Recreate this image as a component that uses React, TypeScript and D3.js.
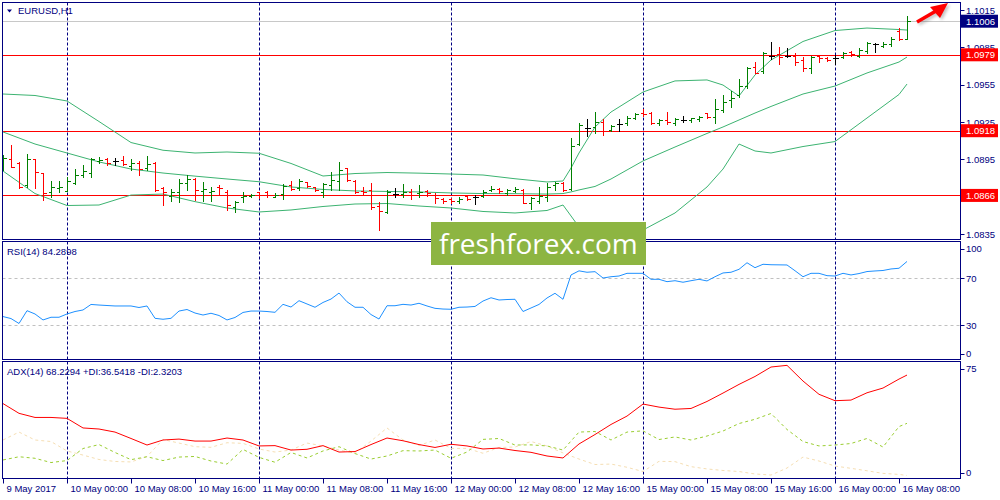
import React from 'react';
import * as d3 from 'd3';

// ---------- DATA ----------
const timeLabels = [
  '9 May 2017', '10 May 00:00', '10 May 08:00', '10 May 16:00', '11 May 00:00',
  '11 May 08:00', '11 May 16:00', '12 May 00:00', '12 May 08:00', '12 May 16:00',
  '15 May 00:00', '15 May 08:00', '15 May 16:00', '16 May 00:00', '16 May 08:00',
];
const daySeparators = [8, 32, 56, 80, 104];

const open = [
  1.08888, 1.08950, 1.08921, 1.08744, 1.08950, 1.08838, 1.08688, 1.08720, 1.08698, 1.08757,
  1.08824, 1.08843, 1.08934, 1.08953, 1.08934, 1.08945, 1.08899, 1.08918, 1.08878, 1.08918,
  1.08717, 1.08655, 1.08690, 1.08757, 1.08790, 1.08698, 1.08690, 1.08730, 1.08690, 1.08565,
  1.08645, 1.08655, 1.08685, 1.08685, 1.08650, 1.08671, 1.08744, 1.08717, 1.08765, 1.08725,
  1.08690, 1.08744, 1.08778, 1.08878, 1.08778, 1.08698, 1.08704, 1.08575, 1.08529, 1.08669,
  1.08669, 1.08690, 1.08677, 1.08696, 1.08663, 1.08629, 1.08629, 1.08615, 1.08655, 1.08645,
  1.08655, 1.08704, 1.08709, 1.08682, 1.08698, 1.08704, 1.08602, 1.08615, 1.08650, 1.08744,
  1.08757, 1.08709, 1.09071, 1.09199, 1.09212, 1.09252, 1.09186, 1.09232, 1.09240, 1.09280,
  1.09320, 1.09325, 1.09240, 1.09266, 1.09240, 1.09266, 1.09266, 1.09274, 1.09320, 1.09288,
  1.09344, 1.09427, 1.09467, 1.09539, 1.09694, 1.09660, 1.09780, 1.09797, 1.09780, 1.09780,
  1.09748, 1.09682, 1.09780, 1.09762, 1.09762, 1.09775, 1.09810, 1.09780, 1.09821, 1.09877,
  1.09861, 1.09874, 1.09984, 1.09920,
];
const high = [
  1.08985, 1.09065, 1.08926, 1.08993, 1.08953, 1.08840, 1.08776, 1.08776, 1.08810, 1.08870,
  1.08905, 1.08963, 1.08966, 1.08958, 1.08958, 1.08979, 1.08950, 1.08939, 1.08979, 1.08926,
  1.08730, 1.08709, 1.08790, 1.08824, 1.08798, 1.08770, 1.08730, 1.08744, 1.08700, 1.08615,
  1.08690, 1.08669, 1.08690, 1.08696, 1.08677, 1.08749, 1.08776, 1.08790, 1.08770, 1.08730,
  1.08757, 1.08851, 1.08926, 1.08883, 1.08784, 1.08730, 1.08757, 1.08610, 1.08704, 1.08722,
  1.08749, 1.08709, 1.08744, 1.08704, 1.08677, 1.08637, 1.08637, 1.08645, 1.08663, 1.08663,
  1.08704, 1.08736, 1.08722, 1.08709, 1.08725, 1.08709, 1.08650, 1.08725, 1.08762, 1.08770,
  1.08770, 1.09119, 1.09240, 1.09272, 1.09328, 1.09274, 1.09226, 1.09272, 1.09301, 1.09325,
  1.09352, 1.09328, 1.09272, 1.09328, 1.09280, 1.09298, 1.09285, 1.09301, 1.09325, 1.09432,
  1.09467, 1.09502, 1.09593, 1.09694, 1.09735, 1.09815, 1.09891, 1.09855, 1.09847, 1.09807,
  1.09770, 1.09780, 1.09788, 1.09770, 1.09788, 1.09815, 1.09823, 1.09847, 1.09891, 1.09887,
  1.09891, 1.09931, 1.10008, 1.10102,
];
const low = [
  1.08864, 1.08891, 1.08717, 1.08730, 1.08717, 1.08623, 1.08650, 1.08690, 1.08692, 1.08749,
  1.08810, 1.08810, 1.08923, 1.08905, 1.08905, 1.08905, 1.08864, 1.08824, 1.08864, 1.08696,
  1.08583, 1.08618, 1.08605, 1.08704, 1.08623, 1.08615, 1.08618, 1.08663, 1.08543, 1.08529,
  1.08610, 1.08650, 1.08637, 1.08650, 1.08645, 1.08629, 1.08704, 1.08704, 1.08730, 1.08696,
  1.08645, 1.08704, 1.08704, 1.08776, 1.08682, 1.08663, 1.08551, 1.08382, 1.08516, 1.08645,
  1.08650, 1.08629, 1.08650, 1.08655, 1.08597, 1.08597, 1.08597, 1.08597, 1.08623, 1.08589,
  1.08645, 1.08696, 1.08682, 1.08663, 1.08685, 1.08597, 1.08551, 1.08602, 1.08615, 1.08700,
  1.08696, 1.08704, 1.09065, 1.09140, 1.09159, 1.09146, 1.09180, 1.09180, 1.09226, 1.09272,
  1.09298, 1.09232, 1.09226, 1.09234, 1.09226, 1.09248, 1.09252, 1.09260, 1.09280, 1.09244,
  1.09330, 1.09367, 1.09449, 1.09521, 1.09641, 1.09646, 1.09754, 1.09716, 1.09770, 1.09708,
  1.09662, 1.09646, 1.09735, 1.09740, 1.09716, 1.09762, 1.09780, 1.09775, 1.09807, 1.09815,
  1.09850, 1.09863, 1.09909, 1.09917,
];
const close = [
  1.08961, 1.08891, 1.08730, 1.08950, 1.08846, 1.08677, 1.08728, 1.08730, 1.08778, 1.08824,
  1.08856, 1.08950, 1.08945, 1.08918, 1.08934, 1.08910, 1.08918, 1.08872, 1.08913, 1.08704,
  1.08690, 1.08690, 1.08762, 1.08790, 1.08704, 1.08709, 1.08698, 1.08717, 1.08583, 1.08610,
  1.08655, 1.08663, 1.08663, 1.08663, 1.08663, 1.08738, 1.08709, 1.08778, 1.08736, 1.08704,
  1.08752, 1.08784, 1.08864, 1.08784, 1.08690, 1.08690, 1.08569, 1.08535, 1.08690, 1.08669,
  1.08690, 1.08663, 1.08690, 1.08677, 1.08637, 1.08615, 1.08618, 1.08631, 1.08631, 1.08645,
  1.08690, 1.08712, 1.08696, 1.08704, 1.08709, 1.08602, 1.08637, 1.08655, 1.08730, 1.08757,
  1.08704, 1.09057, 1.09226, 1.09199, 1.09252, 1.09180, 1.09218, 1.09232, 1.09285, 1.09314,
  1.09312, 1.09240, 1.09266, 1.09248, 1.09274, 1.09266, 1.09280, 1.09293, 1.09288, 1.09352,
  1.09411, 1.09441, 1.09539, 1.09686, 1.09646, 1.09807, 1.09780, 1.09775, 1.09780, 1.09735,
  1.09686, 1.09775, 1.09762, 1.09748, 1.09762, 1.09807, 1.09797, 1.09829, 1.09882, 1.09877,
  1.09877, 1.09915, 1.09917, 1.10060,
];

// Bollinger bands, read at these bar indices
const bbIdx = [0, 4, 8, 12, 16, 20, 24, 28, 32, 36, 40, 44, 48, 52, 56, 60, 64, 68, 70, 71, 72, 74, 76, 80, 84, 88, 90, 92, 94, 96, 100, 104, 108, 112, 113];
const bbUpper = [1.09475, 1.09463, 1.09419, 1.09254, 1.09085, 1.09023, 1.09001, 1.09009, 1.08999, 1.08917, 1.08816, 1.08836, 1.08844, 1.08839, 1.08832, 1.08824, 1.08794, 1.08768, 1.08776, 1.08880, 1.09001, 1.09210, 1.09330, 1.09491, 1.09580, 1.09588, 1.09547, 1.09459, 1.09628, 1.09748, 1.09897, 1.09985, 1.10005, 1.09993, 1.09989];
const bbMiddle = [1.09170, 1.09073, 1.09001, 1.08929, 1.08872, 1.08840, 1.08815, 1.08792, 1.08770, 1.08728, 1.08708, 1.08696, 1.08692, 1.08688, 1.08680, 1.08675, 1.08674, 1.08671, 1.08675, 1.08688, 1.08704, 1.08732, 1.08792, 1.08937, 1.09049, 1.09158, 1.09210, 1.09266, 1.09322, 1.09375, 1.09475, 1.09539, 1.09644, 1.09732, 1.09772];
const bbLower = [1.08856, 1.08675, 1.08579, 1.08583, 1.08663, 1.08671, 1.08610, 1.08559, 1.08527, 1.08543, 1.08571, 1.08591, 1.08595, 1.08575, 1.08559, 1.08531, 1.08519, 1.08539, 1.08583, 1.08495, 1.08406, 1.08254, 1.08254, 1.08382, 1.08519, 1.08728, 1.08872, 1.09073, 1.09017, 1.09001, 1.09053, 1.09093, 1.09282, 1.09471, 1.09555];

const priceTicks = [1.1015, 1.0985, 1.0955, 1.0925, 1.0895, 1.0865, 1.0835];
const hLines = [1.0979, 1.0918, 1.0866];
const bidPrice = 1.1006;

const rsi = [
  37.4, 35.7, 31.5, 42.4, 39.6, 34.5, 36.8, 36.8, 39.6, 41.7,
  43.0, 47.7, 47.2, 46.8, 46.4, 46.4, 46.4, 45.1, 46.4, 35.9,
  35.1, 35.9, 42.1, 43.4, 40.4, 38.7, 40.2, 38.3, 34.5, 36.6,
  40.9, 42.1, 42.1, 41.7, 41.0, 47.8, 45.5, 50.9, 48.1, 45.3,
  49.4, 52.3, 57.4, 50.0, 45.3, 45.3, 39.1, 35.3, 46.6, 46.6,
  47.8, 47.2, 48.7, 46.4, 44.4, 43.8, 43.6, 45.3, 45.5, 46.0,
  50.6, 53.4, 51.5, 51.9, 52.1, 41.7, 44.7, 47.7, 53.2, 57.2,
  52.1, 72.8, 76.3, 75.1, 75.6, 70.2, 71.3, 71.9, 74.2, 74.2,
  74.2, 69.1, 69.1, 67.1, 67.9, 66.6, 67.9, 69.1, 67.7, 71.3,
  74.5, 75.1, 77.6, 83.2, 79.0, 81.9, 81.5, 81.4, 81.3, 76.4,
  71.3, 74.2, 74.2, 72.2, 71.9, 74.2, 72.8, 74.0, 75.7, 76.2,
  76.6, 77.9, 78.5, 84.29,
];
const rsiLevels = [70, 30];
const rsiTicks = [100, 70, 30, 0];

// ADX / DI read at every second bar plus the last bar
const adxIdx = [...d3.range(0, 113, 2), 113];
const adx = [49.5, 43.1, 40.4, 40.4, 39.8, 33.5, 32.8, 30.8, 26.6, 22.3, 25.6, 26.2, 24.9, 24.9, 26.9, 25.6, 21.7, 21.9, 19.0, 19.5, 21.9, 17.7, 18.0, 22.6, 26.9, 25.1, 22.6, 20.7, 22.8, 21.7, 19.7, 20.3, 18.7, 17.5, 15.1, 13.8, 23.0, 29.2, 35.8, 41.3, 49.2, 47.2, 45.8, 46.3, 50.9, 56.4, 62.1, 67.3, 73.5, 74.6, 64.3, 55.6, 51.4, 51.8, 56.6, 59.7, 65.6, 68.23];
const plusDI = [12.5, 14.6, 13.6, 10.8, 12.1, 20.0, 22.6, 17.4, 12.7, 14.6, 12.1, 14.4, 14.8, 11.8, 9.8, 19.4, 14.2, 11.0, 17.4, 13.8, 18.4, 21.2, 16.7, 13.1, 15.1, 18.6, 18.4, 19.0, 13.6, 17.7, 26.0, 26.6, 22.3, 22.4, 21.7, 19.0, 30.8, 31.2, 25.6, 30.8, 31.6, 25.9, 27.6, 25.6, 28.2, 31.5, 36.4, 39.2, 43.0, 32.5, 24.6, 21.7, 22.3, 23.3, 26.6, 21.0, 34.4, 36.54];
const minusDI = [25.6, 30.8, 25.6, 24.6, 18.4, 15.7, 12.8, 11.5, 11.2, 14.8, 25.9, 23.6, 21.2, 20.8, 23.8, 23.4, 19.7, 17.7, 19.0, 23.6, 21.7, 19.0, 16.9, 24.9, 33.5, 25.6, 22.0, 25.6, 20.1, 20.1, 16.9, 20.7, 21.0, 24.6, 21.7, 17.1, 13.1, 9.5, 9.8, 7.7, 4.9, 11.6, 11.4, 8.1, 6.6, 5.6, 4.9, 3.3, 2.6, 7.2, 14.4, 11.8, 8.5, 7.0, 5.4, 3.7, 3.0, 2.32];
const adxTicks = [75, 0];

// ---------- STYLE ----------
const NAVY = '#000080';
const RED = '#FF0000';
const FONT = "'Liberation Sans', Arial, sans-serif";
const FS = 9.5;

export default function App() {
  const W = 1000, H = 500;
  const L = 2.5, R = 960.5;
  const mainP = { top: 2.5, bottom: 239.5 };
  const rsiP = { top: 241.5, bottom: 359.5 };
  const adxP = { top: 361.5, bottom: 478.5 };

  const x = d3.scaleLinear().domain([0, 113]).range([3, 907]);
  const y = d3.scaleLinear().domain([1.0835, 1.1015]).range([234, 10]);
  const yR = d3.scaleLinear().domain([0, 100]).range([360.5, 243]);
  const yA = d3.scaleLinear().domain([0, 76.8]).range([479, 362]);

  const px = (v: number) => Math.round(v) + 0.5;

  const bandLine = (vals: number[]) =>
    d3.line<number>().x((_, k) => x(bbIdx[k])).y((v) => y(v))(vals) || '';
  const rsiLine = d3.line<number>().x((_, k) => x(k)).y((v) => yR(v))(rsi) || '';
  const adxLine = (vals: number[]) =>
    d3.line<number>().x((_, k) => x(adxIdx[k])).y((v) => yA(v))(vals) || '';

  const clampLabel = (v: number, p: { top: number; bottom: number }) =>
    Math.max(p.top + 7, Math.min(p.bottom - 6, v));

  const barColor = (i: number) =>
    close[i] > open[i] ? '#008000' : close[i] < open[i] ? RED : '#000000';

  const priceBox = (val: number, fill: string, key: string) => {
    const cy = y(val);
    return (
      <g key={key}>
        <rect x={961} y={cy - 6.5} width={37} height={13} fill={fill} />
        <text x={966} y={cy + 3.5} fontSize={FS} fill="#ffffff" fontFamily={FONT}>
          {val.toFixed(4)}
        </text>
      </g>
    );
  };

  return (
    <svg
      width={W}
      height={H}
      style={{ position: 'absolute', left: 0, top: 0, background: '#fff' }}
      fontFamily={FONT}
    >
      <defs>
        <clipPath id="cMain">
          <rect x={L} y={mainP.top} width={R - L} height={mainP.bottom - mainP.top} />
        </clipPath>
        <clipPath id="cRsi">
          <rect x={L} y={rsiP.top} width={R - L} height={rsiP.bottom - rsiP.top} />
        </clipPath>
        <clipPath id="cAdx">
          <rect x={L} y={adxP.top} width={R - L} height={adxP.bottom - adxP.top} />
        </clipPath>
        <filter id="shadow" x="-50%" y="-50%" width="200%" height="200%">
          <feGaussianBlur stdDeviation="1.5" />
        </filter>
      </defs>

      {/* ---------- MAIN PANEL ---------- */}
      <g clipPath="url(#cMain)">
        <rect x={L} width={R - L} y={Math.round(y(bidPrice))} height={1} fill="#C8C8C8" />
        {daySeparators.map((d) => (
          <line key={'dm' + d} x1={px(x(d))} x2={px(x(d))} y1={mainP.top} y2={mainP.bottom}
            stroke={NAVY} strokeDasharray="3,2" />
        ))}
        {hLines.map((h) => (
          <rect key={'h' + h} x={L} width={R - L} y={Math.round(y(h))} height={1} fill={RED} />
        ))}
        <path d={bandLine(bbUpper)} fill="none" stroke="#3CB371" />
        <path d={bandLine(bbMiddle)} fill="none" stroke="#3CB371" />
        <path d={bandLine(bbLower)} fill="none" stroke="#3CB371" />
        {open.map((o, i) => {
          const cx = px(x(i));
          const c = barColor(i);
          return (
            <g key={'b' + i} stroke={c} shapeRendering="crispEdges">
              <line x1={cx} x2={cx} y1={Math.round(y(high[i]))} y2={Math.round(y(low[i])) + 1} />
              <line x1={cx - 3} x2={cx} y1={px(y(o))} y2={px(y(o))} />
              <line x1={cx} x2={cx + 3} y1={px(y(close[i]))} y2={px(y(close[i]))} />
            </g>
          );
        })}
      </g>
      {/* header */}
      <path d="M7,9.5 L12,9.5 L9.5,12.5 Z" fill={NAVY} />
      <text x={18} y={14} fontSize={FS} fill={NAVY}>EURUSD,H1</text>

      {/* ---------- RSI PANEL ---------- */}
      <g clipPath="url(#cRsi)">
        {rsiLevels.map((lv) => (
          <line key={'rl' + lv} x1={L} x2={R} y1={px(yR(lv))} y2={px(yR(lv))}
            stroke="#C0C0C0" strokeDasharray="3,3" />
        ))}
        {daySeparators.map((d) => (
          <line key={'dr' + d} x1={px(x(d))} x2={px(x(d))} y1={rsiP.top} y2={rsiP.bottom}
            stroke={NAVY} strokeDasharray="3,2" />
        ))}
        <path d={rsiLine} fill="none" stroke="#1E90FF" />
      </g>
      <text x={7} y={255} fontSize={FS} fill={NAVY}>RSI(14) 84.2898</text>

      {/* ---------- ADX PANEL ---------- */}
      <g clipPath="url(#cAdx)">
        {daySeparators.map((d) => (
          <line key={'da' + d} x1={px(x(d))} x2={px(x(d))} y1={adxP.top} y2={adxP.bottom}
            stroke={NAVY} strokeDasharray="3,2" />
        ))}
        <path d={adxLine(minusDI)} fill="none" stroke="#F5DEB3" strokeDasharray="3,3" />
        <path d={adxLine(plusDI)} fill="none" stroke="#9ACD32" strokeDasharray="3,3" />
        <path d={adxLine(adx)} fill="none" stroke={RED} />
      </g>
      <text x={7} y={375} fontSize={FS} fill={NAVY}>ADX(14) 68.2294 +DI:36.5418 -DI:2.3203</text>

      {/* panel borders */}
      {[mainP, rsiP, adxP].map((p, k) => (
        <rect key={'pb' + k} x={L} y={p.top} width={R - L} height={p.bottom - p.top}
          fill="none" stroke={NAVY} />
      ))}

      {/* ---------- PRICE AXIS ---------- */}
      {priceTicks.map((t) => (
        <g key={'pt' + t}>
          <line x1={R} x2={R + 4} y1={px(y(t))} y2={px(y(t))} stroke={NAVY} />
          <text x={966} y={y(t) + 3.5} fontSize={FS} fill={NAVY}>{t.toFixed(4)}</text>
        </g>
      ))}
      {priceBox(bidPrice, NAVY, 'bid')}
      {hLines.map((h) => priceBox(h, RED, 'hb' + h))}

      {/* RSI axis */}
      {rsiTicks.map((t) => {
        const ty = clampLabel(yR(t), rsiP);
        return (
          <g key={'rt' + t}>
            <line x1={R} x2={R + 4} y1={px(ty)} y2={px(ty)} stroke={NAVY} />
            <text x={966} y={ty + 3.5} fontSize={FS} fill={NAVY}>{t}</text>
          </g>
        );
      })}
      {/* ADX axis */}
      {adxTicks.map((t) => {
        const ty = clampLabel(yA(t), adxP);
        return (
          <g key={'at' + t}>
            <line x1={R} x2={R + 4} y1={px(ty)} y2={px(ty)} stroke={NAVY} />
            <text x={966} y={ty + 3.5} fontSize={FS} fill={NAVY}>{t}</text>
          </g>
        );
      })}

      {/* ---------- TIME AXIS ---------- */}
      {timeLabels.map((lab, k) => {
        const tx = px(x(k * 8));
        return (
          <g key={'tl' + k}>
            <line x1={tx} x2={tx} y1={adxP.bottom} y2={adxP.bottom + 5} stroke={NAVY} />
            <text x={tx + 3} y={492} fontSize={FS} fill={NAVY}>{lab}</text>
          </g>
        );
      })}

      {/* ---------- WATERMARK ---------- */}
      <rect x={431} y={222} width={215} height={43} fill="#8DB542" />
      <text x={439} y={254} fontSize={28} fill="#fff" fontFamily="'Open Sans', sans-serif">
        freshforex.com
      </text>

      {/* ---------- ARROW ---------- */}
      <g transform="translate(2,2)" opacity={0.35} filter="url(#shadow)">
        <line x1={917} y1={22} x2={936} y2={11} stroke="#555" strokeWidth={3.5} />
        <polygon points="948,3 930,7 940,18" fill="#555" />
      </g>
      <line x1={917} y1={22} x2={936} y2={11} stroke={RED} strokeWidth={3.5} />
      <polygon points="948,3 930,7 940,18" fill={RED} />
    </svg>
  );
}
